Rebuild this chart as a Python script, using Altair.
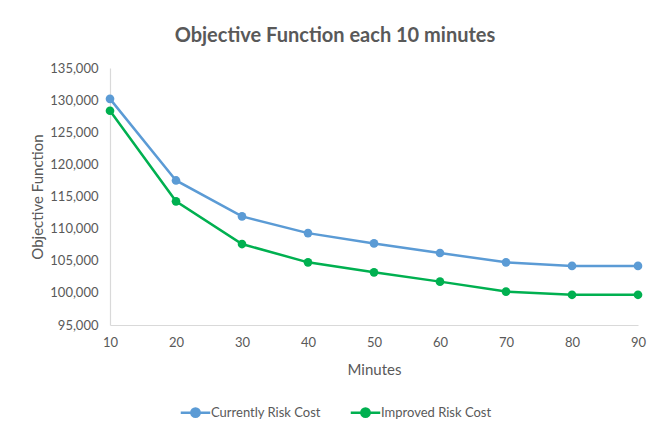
import altair as alt
import pandas as pd

minutes = [10, 20, 30, 40, 50, 60, 70, 80, 90]
current = [130200, 117500, 111900, 109300, 107700, 106200, 104750, 104200, 104200]
improved = [128350, 114250, 107600, 104750, 103200, 101750, 100200, 99700, 99700]
series_names = ["Currently Risk Cost", "Improved Risk Cost"]
colors = ["#5B9BD5", "#00B050"]
y_ticks = [95000, 100000, 105000, 110000, 115000, 120000, 125000, 130000, 135000]

rows = []
for m, c, i in zip(minutes, current, improved):
    rows.append({"Minutes": m, "Value": c, "Series": series_names[0]})
    rows.append({"Minutes": m, "Value": i, "Series": series_names[1]})
df = pd.DataFrame(rows)

FONT = "Lato"
GREY = "#595959"

legend_symbol = "M-1.6,0L1.6,0M-0.45,0a0.45,0.45 0 1,0 0.9,0a0.45,0.45 0 1,0 -0.9,0Z"

lines = alt.Chart(df).mark_line(
    strokeWidth=2.5,
    point=alt.OverlayMarkDef(filled=True, size=75, opacity=1),
).encode(
    x=alt.X("Minutes:Q",
            scale=alt.Scale(domain=[10, 90], nice=False),
            axis=alt.Axis(values=minutes, title="Minutes", ticks=False,
                          grid=False, labelPadding=11, titlePadding=13,
                          labelFlush=False, labelBound=False,
                          domainColor="#D9D9D9", domainWidth=1.2)),
    y=alt.Y("Value:Q",
            scale=alt.Scale(domain=[95000, 135000], nice=False, zero=False),
            axis=alt.Axis(values=y_ticks, format=",.0f", title="Objective Function",
                          ticks=False, grid=False, labelPadding=12, titlePadding=4,
                          labelFlush=False, labelBound=False,
                          domainColor="#D9D9D9", domainWidth=1.2)),
    color=alt.Color("Series:N",
                    scale=alt.Scale(domain=series_names, range=colors),
                    legend=alt.Legend(title=None, orient="none", direction="horizontal",
                                      legendX=75, legendY=334,
                                      symbolType=legend_symbol, symbolSize=340,
                                      symbolStrokeWidth=2.5, columnPadding=24,
                                      labelOffset=5)),
)

frame = alt.Chart(pd.DataFrame({"a": [0]})).mark_rule(color="#D9D9D9", strokeWidth=1).encode(
    x=alt.value(-102.5), y=alt.value(-68), y2=alt.value(366)
)

chart = alt.layer(lines, frame).properties(
    width=528,
    height=257,
    title=alt.TitleParams("Objective Function each 10 minutes", anchor="middle",
                          dx=-39, offset=-46, fontSize=20, font=FONT,
                          fontWeight="bold", color=GREY),
    autosize=alt.AutoSizeParams(type="none"),
    padding={"left": 102, "top": 60, "right": 13, "bottom": 108},
).configure_view(stroke=None).configure_axis(
    labelFont=FONT, titleFont=FONT, labelColor=GREY, titleColor=GREY,
    labelFontSize=13, titleFontSize=15, titleFontWeight="normal",
).configure_legend(
    labelFont=FONT, labelFontSize=13, labelColor=GREY,
)

chart.save("out.html", embed_options={"renderer": "svg", "actions": False})
